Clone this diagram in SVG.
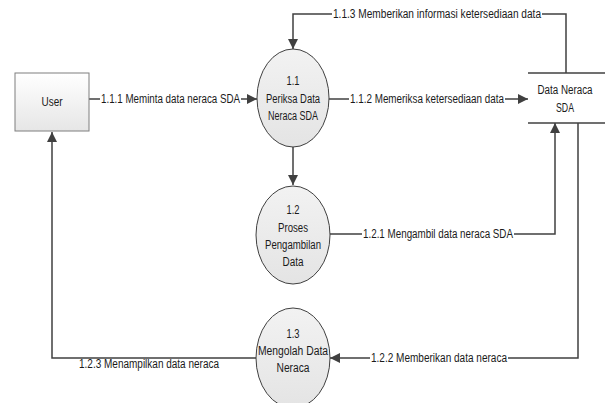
<svg xmlns="http://www.w3.org/2000/svg" width="605" height="403" viewBox="0 0 605 403">
<defs>
<linearGradient id="gBox" x1="0" y1="0" x2="0" y2="1"><stop offset="0" stop-color="#ffffff"/><stop offset="1" stop-color="#e6e6e6"/></linearGradient>
<linearGradient id="gEl" x1="0" y1="0" x2="0" y2="1"><stop offset="0" stop-color="#f2f2f2"/><stop offset="1" stop-color="#e4e4e4"/></linearGradient>
<marker id="arr" viewBox="0 0 10 10" refX="10" refY="5" markerWidth="11" markerHeight="10" markerUnits="userSpaceOnUse" orient="auto"><path d="M0,0 L10,5 L0,10 z" fill="#404040"/></marker>
</defs>
<style>
text{font-family:"Liberation Sans",Arial,sans-serif;font-size:12px;fill:#1a1a1a;text-anchor:middle;dominant-baseline:central}
.c{fill:none;stroke:#404040;stroke-width:1.5}
.a{marker-end:url(#arr)}
.lb{fill:#ffffff}
.el{fill:url(#gEl);stroke:#404040;stroke-width:1}
.st{stroke:#404040;stroke-width:1.5}
</style>
<rect width="605" height="403" fill="#ffffff"/>
<g id="connectors">
<path class="c a" d="M566,73 L566,14 L293,14 L293,49"/>
<path class="c a" d="M89,99 L257,99"/>
<path class="c a" d="M329,99 L528,99"/>
<path class="c a" d="M293,147 L293,185"/>
<path class="c a" d="M330,234 L555,234 L555,123"/>
<path class="c a" d="M578,123 L578,358 L330,358"/>
<path class="c a" d="M257,358 L52,358 L52,132"/>
<rect class="lb" x="332" y="7" width="210" height="14"/>
<text x="437" y="14" textLength="208" lengthAdjust="spacingAndGlyphs">1.1.3 Memberikan informasi ketersediaan data</text>
<rect class="lb" x="100" y="92" width="141" height="14"/>
<text x="170.5" y="99" textLength="139" lengthAdjust="spacingAndGlyphs">1.1.1 Meminta data neraca SDA</text>
<rect class="lb" x="349" y="92" width="156" height="14"/>
<text x="427" y="99" textLength="154" lengthAdjust="spacingAndGlyphs">1.1.2 Memeriksa ketersediaan data</text>
<rect class="lb" x="362" y="227" width="152" height="14"/>
<text x="438" y="234" textLength="150" lengthAdjust="spacingAndGlyphs">1.2.1 Mengambil data neraca SDA</text>
<rect class="lb" x="370" y="351" width="138" height="14"/>
<text x="439" y="358" textLength="136" lengthAdjust="spacingAndGlyphs">1.2.2 Memberikan data neraca</text>
<rect class="lb" x="78" y="359" width="142" height="12"/>
<text x="149" y="364" textLength="140" lengthAdjust="spacingAndGlyphs">1.2.3 Menampilkan data neraca</text>
</g>
<g id="user">
<rect x="15" y="73" width="74" height="58" fill="url(#gBox)" stroke="#7f7f7f" stroke-width="1"/>
<text x="52" y="102" textLength="21" lengthAdjust="spacingAndGlyphs">User</text>
</g>
<g id="p11">
<ellipse class="el" cx="293" cy="98" rx="36" ry="49"/>
<text x="293" y="81" textLength="13" lengthAdjust="spacingAndGlyphs">1.1</text>
<text x="293" y="99" textLength="54" lengthAdjust="spacingAndGlyphs">Periksa Data</text>
<text x="293" y="116" textLength="50" lengthAdjust="spacingAndGlyphs">Neraca SDA</text>
</g>
<g id="p12">
<ellipse class="el" cx="293" cy="235" rx="37" ry="49"/>
<text x="293" y="210" textLength="13" lengthAdjust="spacingAndGlyphs">1.2</text>
<text x="293" y="228" textLength="30" lengthAdjust="spacingAndGlyphs">Proses</text>
<text x="293" y="245" textLength="56" lengthAdjust="spacingAndGlyphs">Pengambilan</text>
<text x="293" y="262" textLength="21" lengthAdjust="spacingAndGlyphs">Data</text>
</g>
<g id="p13">
<ellipse class="el" cx="293" cy="358" rx="37" ry="50"/>
<text x="293" y="334" textLength="13" lengthAdjust="spacingAndGlyphs">1.3</text>
<text x="293" y="351" textLength="70" lengthAdjust="spacingAndGlyphs">Mengolah Data</text>
<text x="293" y="368" textLength="33" lengthAdjust="spacingAndGlyphs">Neraca</text>
</g>
<g id="store">
<line class="st" x1="528" y1="73" x2="605" y2="73"/>
<line class="st" x1="528" y1="123" x2="605" y2="123"/>
<text x="565" y="90" textLength="55" lengthAdjust="spacingAndGlyphs">Data Neraca</text>
<text x="565" y="108" textLength="18" lengthAdjust="spacingAndGlyphs">SDA</text>
</g>
</svg>
